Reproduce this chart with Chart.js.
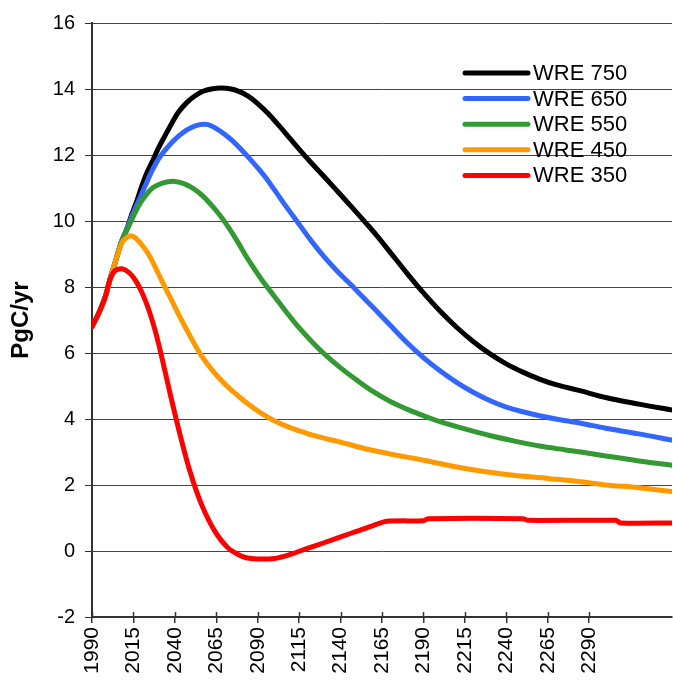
<!DOCTYPE html>
<html>
<head>
<meta charset="utf-8">
<script src="https://cdn.jsdelivr.net/npm/chart.js@4.4.1/dist/chart.umd.min.js"></script>
<style>
  html, body { margin: 0; padding: 0; background: #fff; }
  #c { display: block; }
</style>
</head>
<body>
<canvas id="c" width="673" height="687"></canvas>
<script>
// ---- data ----
const seriesNames = ['WRE 750', 'WRE 650', 'WRE 550', 'WRE 450', 'WRE 350'];
const seriesColors = ['#000000', '#3366FF', '#339933', '#FF9900', '#FF0000'];

const yearsWRE750 = [1990, 1994, 1998, 2001, 2004, 2008, 2011, 2014, 2017, 2020, 2023, 2026, 2030, 2034, 2038, 2042, 2047, 2052, 2057, 2062, 2068, 2074, 2079, 2084, 2090, 2096, 2103, 2110, 2116, 2122, 2129, 2136, 2143, 2150, 2156, 2162, 2170, 2180, 2190, 2200, 2210, 2220, 2230, 2240, 2250, 2260, 2270, 2285, 2300, 2320, 2340];
const valuesWRE750 = [6.8, 7.2, 7.7, 8.25, 8.75, 9.4, 9.75, 10.2, 10.6, 11.05, 11.45, 11.76, 12.2, 12.58, 12.95, 13.29, 13.58, 13.79, 13.93, 14.0, 14.03, 14.0, 13.92, 13.79, 13.56, 13.27, 12.88, 12.47, 12.12, 11.78, 11.4, 11.02, 10.63, 10.24, 9.9, 9.55, 9.05, 8.42, 7.82, 7.27, 6.78, 6.35, 5.98, 5.67, 5.42, 5.21, 5.04, 4.85, 4.65, 4.45, 4.27];

const yearsWRE650 = [1990, 1994, 1998, 2001, 2004, 2008, 2011, 2014, 2018, 2022, 2026, 2030, 2035, 2040, 2045, 2050, 2055, 2060, 2065, 2070, 2075, 2080, 2085, 2090, 2095, 2100, 2107, 2114, 2122, 2130, 2138, 2146, 2153, 2160, 2170, 2180, 2190, 2200, 2210, 2220, 2230, 2240, 2250, 2260, 2270, 2285, 2300, 2320, 2340];
const valuesWRE650 = [6.8, 7.2, 7.7, 8.25, 8.75, 9.4, 9.75, 10.14, 10.6, 11.05, 11.5, 11.87, 12.2, 12.47, 12.68, 12.83, 12.92, 12.92, 12.8, 12.63, 12.42, 12.17, 11.9, 11.61, 11.3, 10.95, 10.45, 9.97, 9.42, 8.92, 8.48, 8.08, 7.72, 7.36, 6.84, 6.32, 5.86, 5.46, 5.11, 4.81, 4.56, 4.36, 4.22, 4.1, 4.0, 3.87, 3.72, 3.55, 3.36];

const yearsWRE550 = [1990, 1994, 1998, 2001, 2004, 2008, 2011, 2014, 2018, 2022, 2026, 2030, 2035, 2040, 2045, 2050, 2055, 2060, 2066, 2072, 2078, 2084, 2092, 2100, 2107, 2114, 2122, 2130, 2140, 2150, 2160, 2170, 2180, 2190, 2200, 2215, 2230, 2245, 2260, 2275, 2285, 2300, 2320, 2340];
const valuesWRE550 = [6.8, 7.2, 7.7, 8.25, 8.75, 9.4, 9.72, 10.04, 10.45, 10.75, 10.98, 11.1, 11.18, 11.2, 11.14, 11.02, 10.84, 10.6, 10.25, 9.84, 9.36, 8.85, 8.25, 7.72, 7.26, 6.82, 6.38, 5.98, 5.55, 5.17, 4.82, 4.53, 4.3, 4.1, 3.92, 3.7, 3.5, 3.33, 3.18, 3.07, 3.0, 2.88, 2.73, 2.6];

const yearsWRE450 = [1990, 1994, 1998, 2001, 2004, 2008, 2011, 2014, 2017, 2020, 2024, 2028, 2032, 2036, 2040, 2044, 2050, 2056, 2063, 2070, 2077, 2084, 2092, 2100, 2110, 2120, 2130, 2140, 2155, 2170, 2190, 2215, 2240, 2265, 2285, 2300, 2320, 2340];
const valuesWRE450 = [6.8, 7.2, 7.7, 8.25, 8.75, 9.33, 9.5, 9.55, 9.45, 9.28, 9.0, 8.62, 8.2, 7.8, 7.4, 7.0, 6.44, 5.92, 5.45, 5.07, 4.75, 4.46, 4.18, 3.95, 3.73, 3.56, 3.42, 3.3, 3.1, 2.94, 2.75, 2.5, 2.32, 2.2, 2.1, 2.0, 1.92, 1.8];

const yearsWRE350 = [1990, 1994, 1998, 2001, 2004, 2008, 2012, 2016, 2020, 2024, 2028, 2032, 2037, 2043, 2049, 2056, 2064, 2072, 2080, 2086, 2100, 2110, 2120, 2130, 2140, 2150, 2160, 2168, 2190, 2193, 2250, 2253, 2306, 2309, 2340];
const valuesWRE350 = [6.8, 7.2, 7.7, 8.25, 8.5, 8.55, 8.45, 8.22, 7.85, 7.35, 6.7, 5.9, 4.8, 3.55, 2.43, 1.42, 0.61, 0.1, -0.15, -0.23, -0.23, -0.1, 0.08, 0.25, 0.43, 0.6, 0.78, 0.9, 0.92, 0.98, 0.98, 0.93, 0.93, 0.85, 0.85];

const yTickValues = [-2, 0, 2, 4, 6, 8, 10, 12, 14, 16];
const xTickYears = [1990, 2015, 2040, 2065, 2090, 2115, 2140, 2165, 2190, 2215, 2240, 2265, 2290];
const yAxisTitle = 'PgC/yr';

// ---- chart ----
const allYears = [yearsWRE750, yearsWRE650, yearsWRE550, yearsWRE450, yearsWRE350];
const allValues = [valuesWRE750, valuesWRE650, valuesWRE550, valuesWRE450, valuesWRE350];

const datasets = seriesNames.map((name, i) => ({
  label: name,
  data: allYears[i].map((yr, j) => ({ x: yr, y: allValues[i][j] })),
  borderColor: seriesColors[i],
  backgroundColor: seriesColors[i],
  borderWidth: 5,
  pointRadius: 0,
  tension: i === 4 ? 0.25 : 0.35,
  borderCapStyle: 'round',
  borderJoinStyle: 'round',
  fill: false,
  order: seriesNames.length - i
}));

Chart.defaults.font.family = "'Liberation Sans', Arial, sans-serif";
Chart.defaults.color = '#000';

const legendPlugin = {
  id: 'insideLegend',
  afterDraw(chart) {
    const ctx = chart.ctx;
    const area = chart.chartArea;
    ctx.save();
    ctx.font = "22px 'Liberation Sans', Arial, sans-serif";
    ctx.textBaseline = 'middle';
    ctx.textAlign = 'left';
    const x0 = area.right - 207, x1 = area.right - 144, tx = area.right - 139;
    seriesNames.forEach((name, i) => {
      const y = area.top + 50 + i * 25.6;
      ctx.strokeStyle = seriesColors[i];
      ctx.lineWidth = 5;
      ctx.lineCap = 'round';
      ctx.beginPath();
      ctx.moveTo(x0, y);
      ctx.lineTo(x1, y);
      ctx.stroke();
      ctx.fillStyle = '#000';
      ctx.fillText(name, tx, y + 1);
    });
    ctx.restore();
  }
};

const innerTickPlugin = {
  id: 'innerTicks',
  afterDraw(chart) {
    const ctx = chart.ctx;
    const xs = chart.scales.x;
    const area = chart.chartArea;
    ctx.save();
    ctx.strokeStyle = '#333';
    ctx.lineWidth = 1.5;
    xs.ticks.forEach(t => {
      const px = Math.round(xs.getPixelForValue(t.value)) + 0.5;
      ctx.beginPath();
      ctx.moveTo(px, area.bottom - 5);
      ctx.lineTo(px, area.bottom);
      ctx.stroke();
    });
    ctx.restore();
  }
};

new Chart(document.getElementById('c'), {
  type: 'line',
  data: { datasets },
  options: {
    responsive: false,
    animation: false,
    events: [],
    layout: { padding: { top: 23, right: 1, left: 0, bottom: 0 } },
    plugins: {
      legend: { display: false },
      tooltip: { enabled: false },
      title: { display: false }
    },
    scales: {
      x: {
        type: 'linear',
        min: 1990,
        max: 2340,
        afterBuildTicks: (scale) => { scale.ticks = xTickYears.map(v => ({ value: v })); },
        afterFit: (scale) => { scale.height = 70; },
        ticks: {
          autoSkip: false,
          maxRotation: 90,
          minRotation: 90,
          padding: 4,
          color: '#000',
          font: { size: 21 },
          callback: (v) => String(v)
        },
        grid: {
          drawOnChartArea: false,
          drawTicks: true,
          tickLength: 6,
          color: '#333',
          lineWidth: 1.5
        },
        border: { display: true, color: '#333', width: 2 }
      },
      y: {
        min: -2,
        max: 16,
        afterBuildTicks: (scale) => { scale.ticks = yTickValues.map(v => ({ value: v })); },
        afterFit: (scale) => { scale.width = 92; },
        ticks: {
          padding: 10,
          color: '#000',
          font: { size: 20 },
          callback: (v) => String(v)
        },
        grid: {
          color: '#444',
          lineWidth: 1,
          tickLength: 7,
          tickColor: '#333'
        },
        border: { display: true, color: '#333', width: 2 },
        title: {
          display: true,
          text: yAxisTitle,
          color: '#000',
          font: { size: 24, weight: 'bold' },
          padding: { top: 7, bottom: 0 }
        }
      }
    }
  },
  plugins: [legendPlugin, innerTickPlugin]
});
</script>
</body>
</html>
